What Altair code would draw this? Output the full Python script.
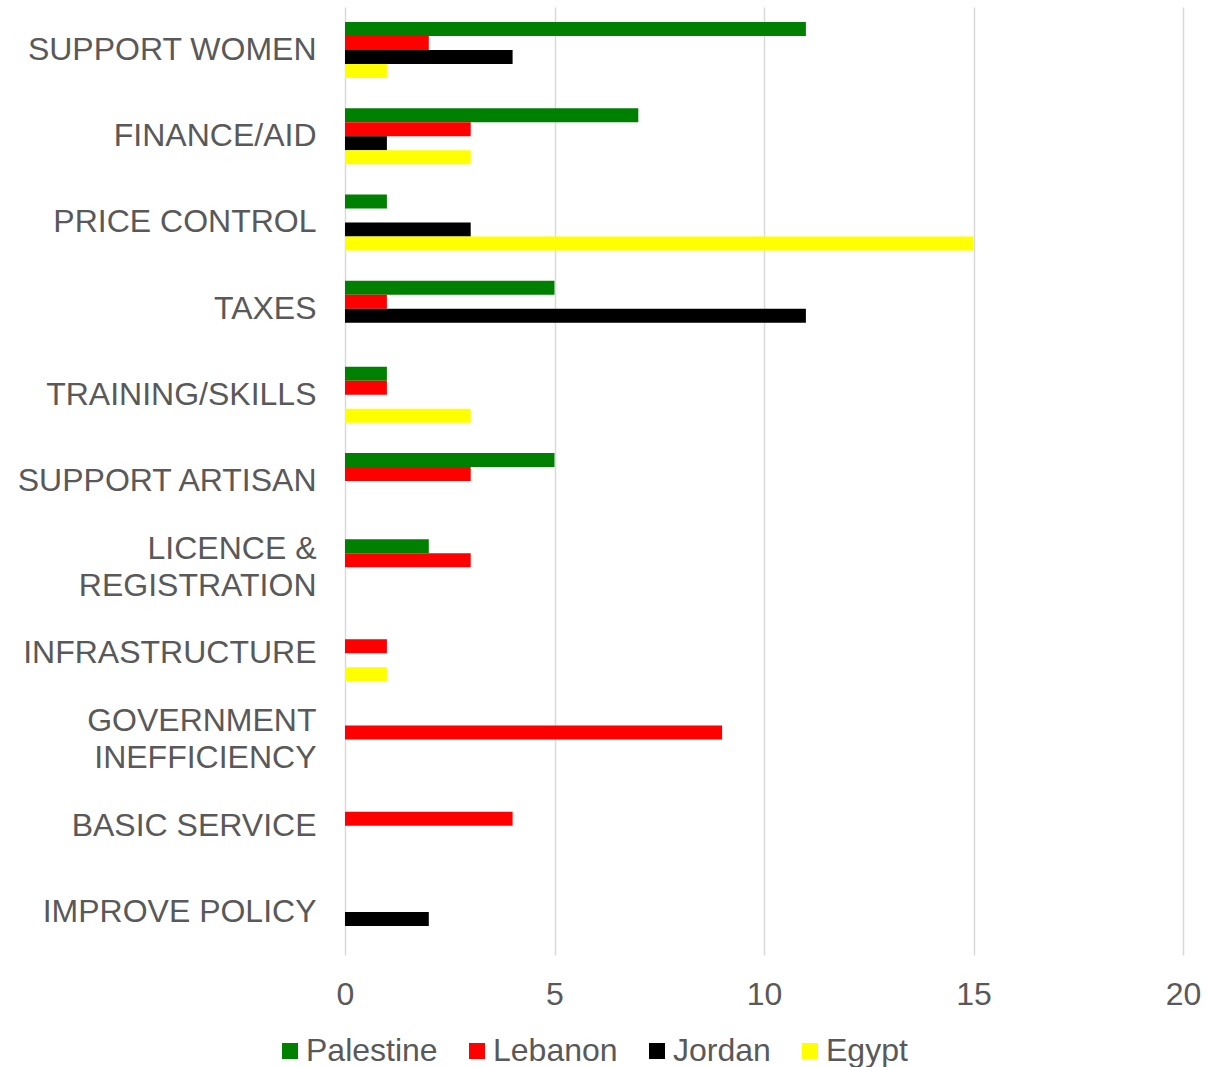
import altair as alt
import pandas as pd

categories = ["SUPPORT WOMEN", "FINANCE/AID", "PRICE CONTROL", "TAXES",
              "TRAINING/SKILLS", "SUPPORT ARTISAN", "LICENCE &|REGISTRATION",
              "INFRASTRUCTURE", "GOVERNMENT|INEFFICIENCY", "BASIC SERVICE",
              "IMPROVE POLICY"]
series = ["Palestine", "Lebanon", "Jordan", "Egypt"]
palestine = [11, 7, 1, 5, 1, 5, 2, 0, 0, 0, 0]
lebanon = [2, 3, 0, 1, 1, 3, 3, 1, 9, 4, 0]
jordan = [4, 1, 3, 11, 0, 0, 0, 0, 0, 0, 2]
egypt = [1, 3, 15, 0, 3, 0, 0, 1, 0, 0, 0]
colors = ["#008000", "#FF0000", "#000000", "#FFFF00"]
x_ticks = [0, 5, 10, 15, 20]

rows = []
for s, vals in zip(series, [palestine, lebanon, jordan, egypt]):
    for c, v in zip(categories, vals):
        rows.append({"category": c, "series": s, "value": v})
df = pd.DataFrame(rows)

FONT = "Liberation Sans"
TXT = "#595959"
FS = 32

chart = alt.Chart(df).mark_bar().encode(
    y=alt.Y("category:N", sort=categories,
            scale=alt.Scale(paddingInner=0.35, paddingOuter=0.175),
            axis=alt.Axis(title=None, labelExpr="split(datum.label, '|')",
                          labelFont=FONT, labelFontSize=FS, labelColor=TXT,
                          labelLineHeight=37, labelLimit=500, labelPadding=29,
                          labelOffset={"condition": {"test": "indexof(datum.value, '|') >= 0",
                                                     "value": -18.5},
                                       "value": 0},
                          ticks=False, domain=False, grid=False)),
    yOffset=alt.YOffset("series:N", sort=series,
                        scale=alt.Scale(domain=series, paddingInner=0, paddingOuter=0)),
    x=alt.X("value:Q", scale=alt.Scale(domain=[0, 20]),
            axis=alt.Axis(title=None, values=x_ticks, grid=True,
                          gridColor="#d9d9d9", gridWidth=1.5,
                          domain=False, ticks=False, labelFont=FONT,
                          labelFontSize=FS, labelColor=TXT, labelPadding=24,
                          labelFlush=False)),
    color=alt.Color("series:N", sort=series,
                    scale=alt.Scale(domain=series, range=colors),
                    legend=alt.Legend(title=None, orient="none", direction="horizontal",
                                      legendX=-71, legendY=1028, padding=0,
                                      symbolType="square", symbolSize=256,
                                      symbolStrokeWidth=0, labelOffset=0,
                                      columnPadding=23, labelFont=FONT,
                                      labelFontSize=FS, labelColor=TXT,
                                      labelLimit=500)),
).properties(
    width=838, height=948,
    background="white",
    autosize=alt.AutoSizeParams(type="none"),
    padding={"left": 345, "top": 7, "right": 27, "bottom": 112},
).configure_view(stroke=None)

chart.save("out.html", embed_options={"renderer": "svg", "actions": False})
